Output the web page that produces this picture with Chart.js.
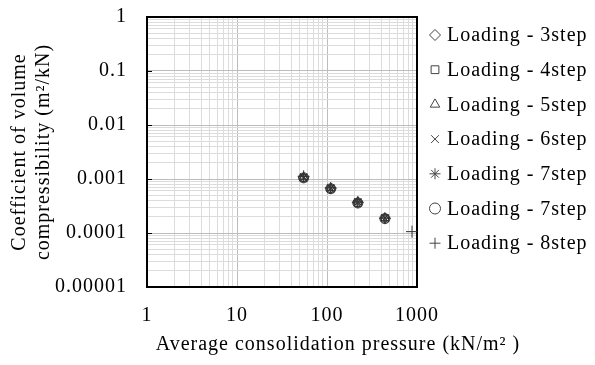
<!DOCTYPE html>
<html>
<head>
<meta charset="utf-8">
<script src="https://cdn.jsdelivr.net/npm/chart.js@4/dist/chart.umd.min.js"></script>
<style>
  html, body { margin: 0; padding: 0; background: #fff; }
</style>
</head>
<body>
<canvas id="mvChart" width="595" height="365"></canvas>
<script>
// Datos
const pressure = [55, 110, 220, 440, 880]; // kN/m2
const mvStep3  = [0.00107, 0.00067, 0.00037, 0.000188];
const mvStep4  = [0.00105, 0.00066, 0.00036, 0.000186];
const mvStep5  = [0.00108, 0.00068, 0.00038, 0.00019];
const mvStep6  = [0.00106, 0.00067, 0.00037, 0.000188];
const mvStep7a = [0.00110, 0.00069, 0.00038, 0.00019];
const mvStep7b = [0.00105, 0.00066, 0.00036, 0.000185];
const mvStep8  = [0.00112, 0.00068, 0.00037, 0.000188, 0.000106];

const seriesLabels = ['Loading - 3step', 'Loading - 4step', 'Loading - 5step', 'Loading - 6step',
                      'Loading - 7step', 'Loading - 7step', 'Loading - 8step'];
const seriesValues = [mvStep3, mvStep4, mvStep5, mvStep6, mvStep7a, mvStep7b, mvStep8];
const seriesStyles = ['rectRot', 'rect', 'triangle', 'crossRot', 'star', 'circle', 'cross'];

const xTickLabels = ['1', '10', '100', '1000'];
const yTickLabels = ['0.00001', '0.0001', '0.001', '0.01', '0.1', '1'];
const xTitle = 'Average consolidation pressure (kN/m² )';
const yTitle = ['Coefficient of volume', 'compressibility (m²/kN)'];

const FONT = { family: "'Liberation Serif', 'Times New Roman', serif", size: 20 };

// lineas de la grilla 1..9 por decada
function logGrid(minExp, maxExp) {
    const t = [];
    for (let e = minExp; e < maxExp; e++) {
        for (let m = 1; m <= 9; m++) t.push({ value: Number((m * Math.pow(10, e)).toPrecision(3)) });
    }
    t.push({ value: Math.pow(10, maxExp) });
    return t;
}
const isDecade = v => Math.abs(Math.log10(v) - Math.round(Math.log10(v))) < 1e-6;
const gridColor = ctx => (ctx.tick && isDecade(ctx.tick.value)) ? '#bcbcbc' : '#dcdcdc';

const datasets = seriesValues.map((vals, i) => ({
    label: seriesLabels[i],
    data: vals.map((v, j) => ({ x: pressure[j], y: v })),
    showLine: false,
    pointStyle: seriesStyles[i],
    pointRadius: seriesStyles[i] === 'cross' ? 6 : 5,
    pointBorderWidth: 1,
    pointBorderColor: '#333',
    pointBackgroundColor: 'rgba(0,0,0,0)'
}));

// marco, marcas, titulo X y leyenda
const framePlugin = {
    id: 'frame',
    beforeDraw(chart) {
        chart.ctx.letterSpacing = '1px';
    },
    beforeDatasetsDraw(chart) {
        const { ctx, chartArea: a } = chart;
        const ys = chart.scales.y;
        ctx.save();
        ctx.strokeStyle = '#000';
        ctx.lineWidth = 2;
        ctx.strokeRect(a.left, a.top, a.right - a.left, a.bottom - a.top);
        ctx.lineWidth = 1;
        for (let e = -4; e <= -1; e++) {
            const py = Math.round(ys.getPixelForValue(Math.pow(10, e))) + 0.5;
            ctx.beginPath();
            ctx.moveTo(a.left, py);
            ctx.lineTo(a.left + 5, py);
            ctx.stroke();
        }
        ctx.restore();
    },
    afterDraw(chart) {
        const ctx = chart.ctx;
        ctx.save();
        ctx.letterSpacing = '1px';
        ctx.font = '20px ' + FONT.family;
        ctx.fillStyle = '#000';
        ctx.textAlign = 'center';
        ctx.textBaseline = 'middle';
        ctx.fillText(xTitle, 338, 345);
        ctx.textAlign = 'left';
        chart.data.datasets.forEach((ds, i) => {
            const y = 35 + i * 34.7;
            ctx.strokeStyle = '#444';
            ctx.fillStyle = 'rgba(0,0,0,0)';
            ctx.lineWidth = 1;
            if (Chart.helpers && Chart.helpers.drawPoint) {
                Chart.helpers.drawPoint(ctx, { pointStyle: ds.pointStyle, radius: 5.5, borderWidth: 1, rotation: 0 }, 435, y);
            }
            ctx.fillStyle = '#000';
            ctx.fillText(ds.label, 447, y + 1);
        });
        ctx.restore();
    }
};

const config = {
    type: 'scatter',
    data: { datasets: datasets },
    options: {
        responsive: false,
        devicePixelRatio: 1,
        animation: false,
        layout: { padding: { top: 17, right: 178, left: 0, bottom: 0 } },
        plugins: { legend: { display: false }, tooltip: { enabled: false } },
        scales: {
            x: {
                type: 'logarithmic',
                position: 'bottom',
                min: 1,
                max: 1000,
                afterBuildTicks: s => { s.ticks = logGrid(0, 3); },
                afterFit: s => { s.height = 78; s.paddingLeft = 0; s.paddingRight = 0; },
                grid: { color: gridColor, lineWidth: 1, drawTicks: false },
                border: { display: false },
                ticks: {
                    autoSkip: false,
                    maxRotation: 0,
                    padding: 17,
                    color: '#000',
                    font: FONT,
                    callback: v => isDecade(v) ? xTickLabels[Math.round(Math.log10(v))] : ''
                }
            },
            y: {
                type: 'logarithmic',
                min: 0.00001,
                max: 1,
                afterBuildTicks: s => { s.ticks = logGrid(-5, 0); },
                afterFit: s => { s.width = 147; s.paddingTop = 0; s.paddingBottom = 0; },
                grid: { color: gridColor, lineWidth: 1, drawTicks: false },
                border: { display: false },
                ticks: {
                    autoSkip: false,
                    padding: 20,
                    color: '#000',
                    font: FONT,
                    callback: v => isDecade(v) ? yTickLabels[Math.round(Math.log10(v)) + 5] : ''
                },
                title: {
                    display: true,
                    text: yTitle,
                    color: '#000',
                    font: FONT,
                    padding: { top: 8, bottom: 0 }
                }
            }
        }
    },
    plugins: [framePlugin]
};

const mvChart = new Chart(document.getElementById('mvChart'), config);
</script>
</body>
</html>
